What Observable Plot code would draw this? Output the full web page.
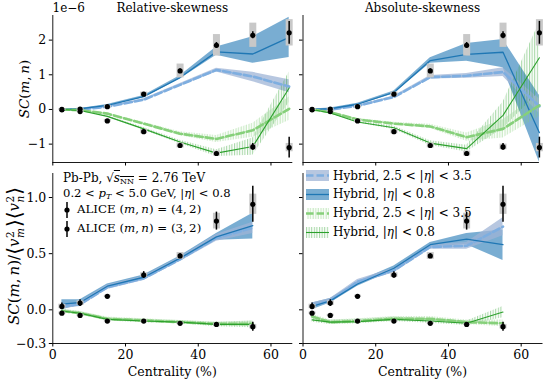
<!DOCTYPE html>
<html><head><meta charset="utf-8">
<script src="https://cdn.jsdelivr.net/npm/d3@7"></script>
<script src="https://cdn.jsdelivr.net/npm/@observablehq/plot@0.6"></script>
<style>
body{margin:0;background:#fff;}
#root{position:relative;width:548px;height:384px;overflow:hidden;font-family:"DejaVu Serif",serif;font-size:12px;color:#000;background:#fff;}
.abs{position:absolute;white-space:nowrap;line-height:1;}
#root svg.p{position:absolute;}
.rot{transform:translate(-50%,-50%) rotate(-90deg);font-size:13.5px;}
.rot2{font-size:15px;}
.s11{font-size:11.6px;}
.s108{font-size:11.8px;}
.xl{font-size:12.5px;}
sub{font-size:8px;line-height:0;vertical-align:baseline;position:relative;top:2px;}
.ss{display:inline-flex;flex-direction:column;font-size:10.5px;line-height:10px;vertical-align:middle;margin-left:0.5px;margin-right:1px;}
.ang{font-size:20px;vertical-align:-2px;}
.leg{display:flex;align-items:center;}
.leg svg{margin-right:4px;}
</style></head><body><div id="root"></div>
<script>
// ---------- DATA ----------
const cent = [2.5, 7.5, 15, 25, 35, 45, 55, 65];      // top panels
const centN = [2.5, 7.5, 15, 25, 35, 45, 55];          // bottom panels

// ALICE SC(m,n) x 1e-6
const alice42 = [0.0, 0.01, 0.08, 0.44, 1.11, 1.85, 2.14, 2.21];
const alice42Stat = [0.02, 0.02, 0.03, 0.04, 0.06, 0.08, 0.10, 0.33];
const alice42Sys = [0.02, 0.03, 0.04, 0.06, 0.20, 0.31, 0.35, 0.38];
const alice32 = [-0.01, -0.06, -0.33, -0.64, -1.04, -1.27, -1.08, -1.10];
const alice32Stat = [0.02, 0.03, 0.04, 0.04, 0.05, 0.05, 0.10, 0.30];
const alice32Sys = [0.02, 0.03, 0.04, 0.06, 0.07, 0.07, 0.08, 0.12];
// ALICE normalized SC
const alice42N = [0.03, 0.06, 0.12, 0.31, 0.48, 0.79, 0.94];
const alice42NStat = [0.03, 0.03, 0.01, 0.03, 0.02, 0.08, 0.16];
const alice42NSys = [0.02, 0.02, 0.01, 0.02, 0.03, 0.07, 0.09];
const alice32N = [-0.03, -0.05, -0.10, -0.10, -0.12, -0.13, -0.15];
const alice32NStat = [0.01, 0.01, 0.01, 0.01, 0.01, 0.01, 0.04];
const alice32NSys = [0.01, 0.01, 0.01, 0.01, 0.01, 0.01, 0.02];

// Hybrid, Relative-skewness, SC (1e-6)
const relBS = [0, 0.02, 0.12, 0.37, 0.92, 1.66, 1.60, 2.08];
const relBSlo = [-0.01, 0.01, 0.10, 0.34, 0.88, 1.56, 1.33, 1.50];
const relBShi = [0.01, 0.03, 0.14, 0.40, 0.97, 1.80, 2.10, 2.66];
const relBD = [0, 0.0, 0.08, 0.28, 0.71, 1.14, 0.95, 0.66];
const relBDlo = [-0.01, -0.01, 0.06, 0.25, 0.67, 1.08, 0.80, 0.48];
const relBDhi = [0.01, 0.01, 0.10, 0.31, 0.75, 1.19, 1.07, 0.86];
const relGS = [0, -0.03, -0.20, -0.56, -0.94, -1.26, -1.07, 0.62];
const relGSlo = [-0.01, -0.04, -0.22, -0.60, -0.99, -1.36, -1.32, 0.20];
const relGShi = [0.01, -0.02, -0.18, -0.52, -0.89, -1.16, -0.82, 1.08];
const relGD = [0, -0.02, -0.12, -0.41, -0.70, -0.85, -0.60, 0.02];
const relGDlo = [-0.01, -0.03, -0.14, -0.45, -0.76, -0.95, -0.80, -0.32];
const relGDhi = [0.01, -0.01, -0.10, -0.37, -0.64, -0.75, -0.40, 0.36];

// Hybrid, Absolute-skewness, SC (1e-6)
const absBS = [0, 0.02, 0.15, 0.49, 1.41, 1.59, 1.65, -0.67];
const absBSlo = [-0.01, 0.0, 0.12, 0.45, 1.33, 1.39, 1.20, -1.52];
const absBShi = [0.01, 0.04, 0.18, 0.53, 1.49, 1.90, 2.02, 0.40];
const absBD = [0, 0.0, 0.10, 0.36, 0.93, 0.97, 1.08, 0.09];
const absBDlo = [-0.01, -0.01, 0.08, 0.33, 0.88, 0.90, 0.95, -0.12];
const absBDhi = [0.01, 0.01, 0.12, 0.39, 0.98, 1.04, 1.20, 0.30];
const absGS = [0, -0.10, -0.36, -0.53, -0.97, -1.13, -0.17, 1.49];
const absGSlo = [-0.01, -0.12, -0.39, -0.58, -1.04, -1.23, -0.55, 0.50];
const absGShi = [0.01, -0.08, -0.33, -0.48, -0.90, -1.03, 0.21, 2.50];
const absGD = [0, -0.08, -0.29, -0.41, -0.49, -0.80, -0.56, 0.12];
const absGDlo = [-0.01, -0.10, -0.32, -0.45, -0.55, -0.92, -0.82, -0.20];
const absGDhi = [0.01, -0.06, -0.26, -0.37, -0.43, -0.68, -0.30, 0.44];

// Hybrid, Relative-skewness, normalized SC
const relNBS = [0.05, 0.065, 0.21, 0.29, 0.46, 0.65, 0.75];
const relNBSlo = [0.0, 0.04, 0.19, 0.27, 0.44, 0.62, 0.63];
const relNBShi = [0.09, 0.09, 0.23, 0.31, 0.48, 0.68, 0.86];
const relNBD = [0.03, 0.05, 0.20, 0.28, 0.45, 0.64, 0.73];
const relNBDlo = [0.01, 0.03, 0.18, 0.26, 0.43, 0.61, 0.68];
const relNBDhi = [0.05, 0.07, 0.22, 0.30, 0.47, 0.67, 0.78];
const relNGS = [-0.01, -0.03, -0.085, -0.10, -0.11, -0.13, -0.13];
const relNGSlo = [-0.025, -0.045, -0.10, -0.115, -0.125, -0.15, -0.16];
const relNGShi = [0.005, -0.015, -0.07, -0.085, -0.095, -0.11, -0.10];
const relNGD = [-0.01, -0.03, -0.08, -0.095, -0.11, -0.125, -0.125];
const relNGDlo = [-0.025, -0.045, -0.095, -0.11, -0.125, -0.14, -0.15];
const relNGDhi = [0.005, -0.015, -0.065, -0.08, -0.095, -0.11, -0.10];

// Hybrid, Absolute-skewness, normalized SC
const absNBS = [0.03, 0.08, 0.23, 0.37, 0.58, 0.63, 0.58];
const absNBSlo = [0.0, 0.06, 0.21, 0.35, 0.56, 0.58, 0.44];
const absNBShi = [0.06, 0.10, 0.25, 0.39, 0.60, 0.68, 0.71];
const absNBD = [0.04, 0.08, 0.25, 0.35, 0.56, 0.57, 0.74];
const absNBDlo = [0.02, 0.06, 0.23, 0.33, 0.54, 0.54, 0.66];
const absNBDhi = [0.06, 0.10, 0.27, 0.37, 0.58, 0.60, 0.82];
const absNGS = [-0.09, -0.11, -0.105, -0.085, -0.10, -0.12, -0.02];
const absNGSlo = [-0.11, -0.13, -0.125, -0.105, -0.12, -0.14, -0.07];
const absNGShi = [-0.07, -0.09, -0.085, -0.065, -0.08, -0.10, 0.03];
const absNGD = [-0.06, -0.11, -0.10, -0.08, -0.08, -0.11, -0.12];
const absNGDlo = [-0.08, -0.13, -0.12, -0.10, -0.10, -0.13, -0.15];
const absNGDhi = [-0.04, -0.09, -0.08, -0.06, -0.06, -0.09, -0.09];

// tick values and labels
const xTicks = [0, 20, 40, 60];
const yTicksTop = [-1, 0, 1, 2];
const yTicksBot = [-0.3, 0.0, 0.5, 1.0];
const titles = ["Relative-skewness", "Absolute-skewness"];
const xLabel = "Centrality (%)";

// ---------- STYLE ----------
const C = {
  blue: "#1f77b4", blueBand: "#1f77b4",
  lblue: "#7eaee0", lblueBand: "#9fb4d6",
  green: "#2ca02c", lgreen: "#86d07a",
  hatchDark: "#010203", hatchLight: "#040506",
  sys: "#c8c8c8"
};
const font = '"DejaVu Serif", serif';
const TS = "\u2009"; // thin space

function series(xs, v, lo, hi) { return xs.map((c, i) => ({c, v: v[i], lo: lo[i], hi: hi[i]})); }
function alice(xs, v, st, sy) { return xs.map((c, i) => ({c, v: v[i], st: st[i], sy: sy[i]})); }

const minus = d => (d < 0 ? "\u2212" : "") + Math.abs(d);
const minus1 = d => (d < 0 ? "\u2212" : "") + Math.abs(d).toFixed(1);

let hatchId = 0;
function addHatch(svg) {
  const k = hatchId++;
  const ns = "http://www.w3.org/2000/svg";
  const defs = document.createElementNS(ns, "defs");
  defs.innerHTML =
    `<pattern id="hd${k}" patternUnits="userSpaceOnUse" width="2.6" height="10"><line x1="0.6" y1="0" x2="0.6" y2="10" stroke="${C.green}" stroke-opacity="0.6" stroke-width="0.8"/></pattern>` +
    `<pattern id="hl${k}" patternUnits="userSpaceOnUse" width="2.6" height="10"><line x1="1.9" y1="0" x2="1.9" y2="10" stroke="${C.lgreen}" stroke-opacity="0.7" stroke-width="0.8"/></pattern>`;
  svg.insertBefore(defs, svg.firstChild);
  svg.querySelectorAll(`[fill="${C.hatchDark}"]`).forEach(e => e.setAttribute("fill", `url(#hd${k})`));
  svg.querySelectorAll(`[fill="${C.hatchLight}"]`).forEach(e => e.setAttribute("fill", `url(#hl${k})`));
}

function panel(o) {
  const m = o.models;
  const marks = [
    Plot.areaY(m.bs, {x: "c", y1: "lo", y2: "hi", fill: C.blueBand, fillOpacity: 0.6}),
    Plot.areaY(m.bd, {x: "c", y1: "lo", y2: "hi", fill: C.lblueBand, fillOpacity: 0.75}),
    Plot.areaY(m.gd, {x: "c", y1: "lo", y2: "hi", fill: C.hatchLight}),
    Plot.areaY(m.gs, {x: "c", y1: "lo", y2: "hi", fill: C.hatchDark}),
    Plot.line(m.bd, {x: "c", y: "v", stroke: C.lblue, strokeWidth: 2.6, strokeDasharray: "7.5,3"}),
    Plot.line(m.bs, {x: "c", y: "v", stroke: C.blue, strokeWidth: 1.3}),
    Plot.line(m.gd, {x: "c", y: "v", stroke: C.lgreen, strokeWidth: 2.6, strokeDasharray: "7.5,3"}),
    Plot.line(m.gs, {x: "c", y: "v", stroke: C.green, strokeWidth: 1.1}),
  ];
  for (const a of o.alice) {
    marks.push(Plot.ruleX(a, {x: "c", y1: d => d.v - d.sy, y2: d => d.v + d.sy, stroke: C.sys, strokeWidth: 7}));
    marks.push(Plot.ruleX(a, {x: "c", y1: d => d.v - d.st, y2: d => d.v + d.st, stroke: "#000", strokeWidth: 1.5}));
    marks.push(Plot.dot(a, {x: "c", y: "v", r: 2.6, fill: "#000"}));
  }
  marks.push(Plot.ruleX([o.xDomain[0]], {stroke: "#000", strokeWidth: 0.9}));
  marks.push(Plot.ruleY([o.yDomain[0]], {stroke: "#000", strokeWidth: 0.9}));
  const svg = Plot.plot({
    width: o.w, height: o.h,
    marginLeft: o.mL, marginRight: o.mR, marginTop: o.mT, marginBottom: o.mB,
    style: {background: "transparent", fontFamily: font, fontSize: "12.5px", overflow: "visible", maxWidth: "none"},
    x: {domain: o.xDomain, ticks: xTicks, tickSize: 3.5, tickPadding: 3, label: null,
        tickFormat: o.xLab ? (d => String(d)) : (() => "")},
    y: {domain: o.yDomain, ticks: o.yTicks, tickSize: 3.5, tickPadding: 3, label: null,
        tickFormat: o.yLab ? o.yFmt : (() => "")},
    marks
  });
  svg.classList.add("p");
  svg.style.left = o.left + "px";
  svg.style.top = o.top + "px";
  addHatch(svg);
  return svg;
}

const root = document.getElementById("root");

const topY = [-1.53, 2.71];
const botY = [-0.3, 1.214];

root.appendChild(panel({
  left: 0, top: 0, w: 300, h: 180, mL: 52.3, mR: 7.7, mT: 15, mB: 18,
  xDomain: [0, 66], yDomain: topY, yTicks: yTicksTop, yFmt: minus, xLab: false, yLab: true,
  models: {bs: series(cent, relBS, relBSlo, relBShi), bd: series(cent, relBD, relBDlo, relBDhi),
           gs: series(cent, relGS, relGSlo, relGShi), gd: series(cent, relGD, relGDlo, relGDhi)},
  alice: [alice(cent, alice42, alice42Stat, alice42Sys), alice(cent, alice32, alice32Stat, alice32Sys)]
}));
root.appendChild(panel({
  left: 295, top: 0, w: 253, h: 180, mL: 7.5, mR: 9.1, mT: 15, mB: 18,
  xDomain: [0, 65], yDomain: topY, yTicks: yTicksTop, yFmt: minus, xLab: false, yLab: false,
  models: {bs: series(cent, absBS, absBSlo, absBShi), bd: series(cent, absBD, absBDlo, absBDhi),
           gs: series(cent, absGS, absGSlo, absGShi), gd: series(cent, absGD, absGDlo, absGDhi)},
  alice: [alice(cent, alice42, alice42Stat, alice42Sys), alice(cent, alice32, alice32Stat, alice32Sys)]
}));
root.appendChild(panel({
  left: 0, top: 160, w: 300, h: 224, mL: 52.3, mR: 7.7, mT: 13, mB: 41,
  xDomain: [0, 66], yDomain: botY, yTicks: yTicksBot, yFmt: minus1, xLab: true, yLab: true,
  models: {bs: series(centN, relNBS, relNBSlo, relNBShi), bd: series(centN, relNBD, relNBDlo, relNBDhi),
           gs: series(centN, relNGS, relNGSlo, relNGShi), gd: series(centN, relNGD, relNGDlo, relNGDhi)},
  alice: [alice(centN, alice42N, alice42NStat, alice42NSys), alice(centN, alice32N, alice32NStat, alice32NSys)]
}));
root.appendChild(panel({
  left: 295, top: 160, w: 253, h: 224, mL: 7.5, mR: 5.5, mT: 13, mB: 41,
  xDomain: [0, 66], yDomain: botY, yTicks: yTicksBot, yFmt: minus1, xLab: true, yLab: false,
  models: {bs: series(centN, absNBS, absNBSlo, absNBShi), bd: series(centN, absNBD, absNBDlo, absNBDhi),
           gs: series(centN, absNGS, absNGSlo, absNGShi), gd: series(centN, absNGD, absNGDlo, absNGDhi)},
  alice: [alice(centN, alice42N, alice42NStat, alice42NSys), alice(centN, alice32N, alice32NStat, alice32NSys)]
}));

// ---------- TEXT ----------
function addText(html, x, y, opts = {}) {
  const d = document.createElement("div");
  d.className = "abs" + (opts.cls ? " " + opts.cls : "");
  d.innerHTML = html;
  d.style.left = x + "px"; d.style.top = y + "px";
  if (opts.center) d.style.transform = "translate(-50%,-50%)";
  if (opts.vcenter) d.style.transform = "translate(0,-50%)";
  root.appendChild(d);
  return d;
}
addText(titles[0], 172.3, 8, {center: true});
addText(titles[1], 422.5, 8, {center: true});
addText("1e\u22126", 52.5, 8, {vcenter: true});
addText(xLabel, 172.3, 372, {center: true, cls: "xl"});
addText(xLabel, 422.5, 372, {center: true, cls: "xl"});
addText(`<i>SC</i>(<i>m</i>,${TS}<i>n</i>)`, 25, 88.5, {cls: "rot"});
addText(`<i>SC</i>(<i>m</i>,${TS}<i>n</i>)/<span class="ang">⟨</span><i>v</i><span class="ss"><span>2</span><i>m</i></span><span class="ang">⟩⟨</span><i>v</i><span class="ss"><span>2</span><i>n</i></span><span class="ang">⟩</span>`, 13.5, 256, {cls: "rot rot2"});

// legend: ALICE (bottom-left)
addText('Pb-Pb, √<span style="text-decoration:overline"><i>s</i><sub>NN</sub></span> = 2.76 TeV', 63, 177.5, {vcenter: true});
addText('0.2 &lt; <i>p</i><sub><i>T</i></sub> &lt; 5.0 GeV, |<i>η</i>| &lt; 0.8', 63, 193.8, {vcenter: true, cls: "s11"});
const aliceSw = '<svg width="10" height="18" style="margin-right:5px"><line x1="5" y1="1" x2="5" y2="17" stroke="#000" stroke-width="1.5"/><circle cx="5" cy="9" r="2.6" fill="#000"/></svg>';
addText(`<div class="leg">${aliceSw}ALICE (<i>m</i>,${TS}<i>n</i>) = (4,${TS}2)</div>`, 62, 210, {vcenter: true, cls: "s108"});
addText(`<div class="leg">${aliceSw}ALICE (<i>m</i>,${TS}<i>n</i>) = (3,${TS}2)</div>`, 62, 229, {vcenter: true, cls: "s108"});

// legend: Hybrid (bottom-right)
function sw(kind) {
  const defs = `<defs><pattern id="shd" patternUnits="userSpaceOnUse" width="2.6" height="10"><line x1="0.6" y1="0" x2="0.6" y2="10" stroke="${C.green}" stroke-opacity="0.6" stroke-width="0.8"/></pattern><pattern id="shl" patternUnits="userSpaceOnUse" width="2.6" height="10"><line x1="1.9" y1="0" x2="1.9" y2="10" stroke="${C.lgreen}" stroke-opacity="0.7" stroke-width="0.8"/></pattern></defs>`;
  let fill, line;
  if (kind === "bd") { fill = `fill="${C.lblueBand}" fill-opacity="0.75"`; line = `stroke="${C.lblue}" stroke-width="2.6" stroke-dasharray="7.5,3"`; }
  if (kind === "bs") { fill = `fill="${C.blueBand}" fill-opacity="0.6"`; line = `stroke="${C.blue}" stroke-width="1.3"`; }
  if (kind === "gd") { fill = `fill="url(#shl)"`; line = `stroke="${C.lgreen}" stroke-width="2.6" stroke-dasharray="7.5,3"`; }
  if (kind === "gs") { fill = `fill="url(#shd)"`; line = `stroke="${C.green}" stroke-width="1.1"`; }
  return `<svg width="23" height="11">${defs}<rect x="0" y="0" width="23" height="11" ${fill}/><line x1="0" y1="5.5" x2="23" y2="5.5" ${line}/></svg>`;
}
const hyb = ["Hybrid, 2.5 &lt; |<i>η</i>| &lt; 3.5", "Hybrid, |<i>η</i>| &lt; 0.8"];
addText('<div class="leg">' + sw("bd") + hyb[0] + '</div>', 306, 175.7, {vcenter: true});
addText('<div class="leg">' + sw("bs") + hyb[1] + '</div>', 306, 194.3, {vcenter: true});
addText('<div class="leg">' + sw("gd") + hyb[0] + '</div>', 306, 213.3, {vcenter: true});
addText('<div class="leg">' + sw("gs") + hyb[1] + '</div>', 306, 232.3, {vcenter: true});
</script></body></html>
